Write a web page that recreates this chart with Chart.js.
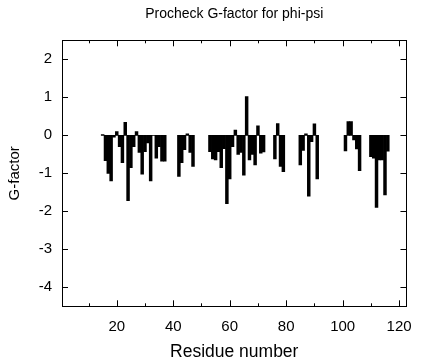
<!DOCTYPE html>
<html><head><meta charset="utf-8">
<script src="https://cdn.jsdelivr.net/npm/chart.js@4/dist/chart.umd.min.js"></script>
<style>html,body{margin:0;padding:0;background:#fff}canvas{display:block}</style>
</head><body>
<canvas id="c" width="424" height="360"></canvas>
<script>
// residue numbers present in the plot
const residues = [15,16,17,18,19,20,21,22,23,24,25,26,27,28,29,30,31,32,33,34,35,36,37,
  42,43,44,45,46,47,
  53,54,55,56,57,58,59,60,61,62,63,64,65,66,67,68,69,70,71,72,
  76,77,78,79,
  85,86,87,88,89,90,91,
  101,102,103,104,105,106,
  110,111,112,113,114,115,116];
// G-factor values (phi-psi) per residue
const gfactor = [0.02,-0.67,-1.0,-1.2,-0.05,0.1,-0.3,-0.72,0.34,-1.72,-0.85,-0.3,0.1,-0.45,-1.02,-0.43,-0.2,-1.2,0,-0.6,-0.3,-0.68,-0.68,
  -1.08,-0.72,-0.38,0.04,-0.45,-0.82,
  -0.43,-0.62,-0.65,-0.43,-0.85,-0.35,-1.8,-1.15,-0.3,0.14,-0.5,-0.45,-1.05,1.02,-0.65,-0.5,-0.78,0.25,-0.47,-0.44,
  -0.62,0.31,-0.82,-0.96,
  -0.78,-0.4,0.04,-1.6,-0.17,0.3,-1.15,
  -0.41,0.36,0.36,-0.12,-0.36,-0.93,
  -0.56,-0.6,-1.9,-0.65,-0.65,-1.57,-0.42];
const yTicks = [-4,-3,-2,-1,0,1,2];
const xMajorTicks = [20,40,60,80,100,120];
const xMinorTicks = [10,30,50,70,90,110];

const FONT = "'Liberation Sans', Arial, Helvetica, sans-serif";

const framePlugin = {
  id: 'frame',
  afterDatasetsDraw(chart) {
    const {ctx, chartArea: a, scales: {x, y}} = chart;
    ctx.save();
    ctx.strokeStyle = '#000';
    ctx.lineWidth = 1;
    ctx.beginPath();
    yTicks.forEach(v => {
      const py = Math.round(y.getPixelForValue(v)) + 0.5;
      ctx.moveTo(a.left, py); ctx.lineTo(a.left + 6, py);
      ctx.moveTo(a.right, py); ctx.lineTo(a.right - 6, py);
    });
    xMajorTicks.forEach(v => {
      const px = Math.round(x.getPixelForValue(v)) + 0.5;
      ctx.moveTo(px, a.bottom); ctx.lineTo(px, a.bottom - 6);
      ctx.moveTo(px, a.top); ctx.lineTo(px, a.top + 6);
    });
    xMinorTicks.forEach(v => {
      const px = Math.round(x.getPixelForValue(v)) + 0.5;
      ctx.moveTo(px, a.bottom); ctx.lineTo(px, a.bottom - 3);
      ctx.moveTo(px, a.top); ctx.lineTo(px, a.top + 3);
    });
    ctx.stroke();
    ctx.strokeRect(Math.round(a.left) + 0.5, Math.round(a.top) + 0.5,
      Math.round(a.right) - Math.round(a.left), Math.round(a.bottom) - Math.round(a.top));
    ctx.restore();
  }
};

new Chart(document.getElementById('c'), {
  type: 'bar',
  data: {
    datasets: [{
      data: residues.map((r, i) => ({x: r, y: gfactor[i]})),
      backgroundColor: '#000',
      borderWidth: 0,
      barPercentage: 1,
      categoryPercentage: 1
    }]
  },
  options: {
    responsive: false,
    animation: false,
    events: [],
    layout: {padding: {left: 0, right: 10.3, top: 0, bottom: 0}},
    plugins: {
      legend: {display: false},
      tooltip: {enabled: false},
      title: {
        display: true,
        fullSize: false,
        text: 'Procheck G-factor for phi-psi',
        color: '#000',
        font: {family: FONT, size: 14, weight: 'normal'},
        padding: {top: 6, bottom: 17.5}
      }
    },
    scales: {
      x: {
        type: 'linear',
        offset: false,
        min: 0.6, max: 122.6,
        grid: {display: false, drawTicks: false, offset: false},
        border: {display: false},
        afterBuildTicks: s => { s.ticks = xMajorTicks.map(v => ({value: v})); },
        afterFit: s => { s.height = 53.7; },
        ticks: {color: '#000', font: {family: FONT, size: 15}, padding: 12, maxRotation: 0, autoSkip: false},
        title: {display: true, text: 'Residue number', color: '#000', font: {family: FONT, size: 17.5}, padding: {top: 0, bottom: -3}}
      },
      y: {
        min: -4.5, max: 2.5,
        grid: {display: false, drawTicks: false},
        border: {display: false},
        afterBuildTicks: s => { s.ticks = yTicks.map(v => ({value: v})); },
        afterFit: s => { s.width = 62; },
        ticks: {color: '#000', font: {family: FONT, size: 15}, padding: 10},
        title: {display: true, text: 'G-factor', color: '#000', font: {family: FONT, size: 15}, padding: {top: 6, bottom: 0}}
      }
    }
  },
  plugins: [framePlugin]
});
</script>
</body></html>
